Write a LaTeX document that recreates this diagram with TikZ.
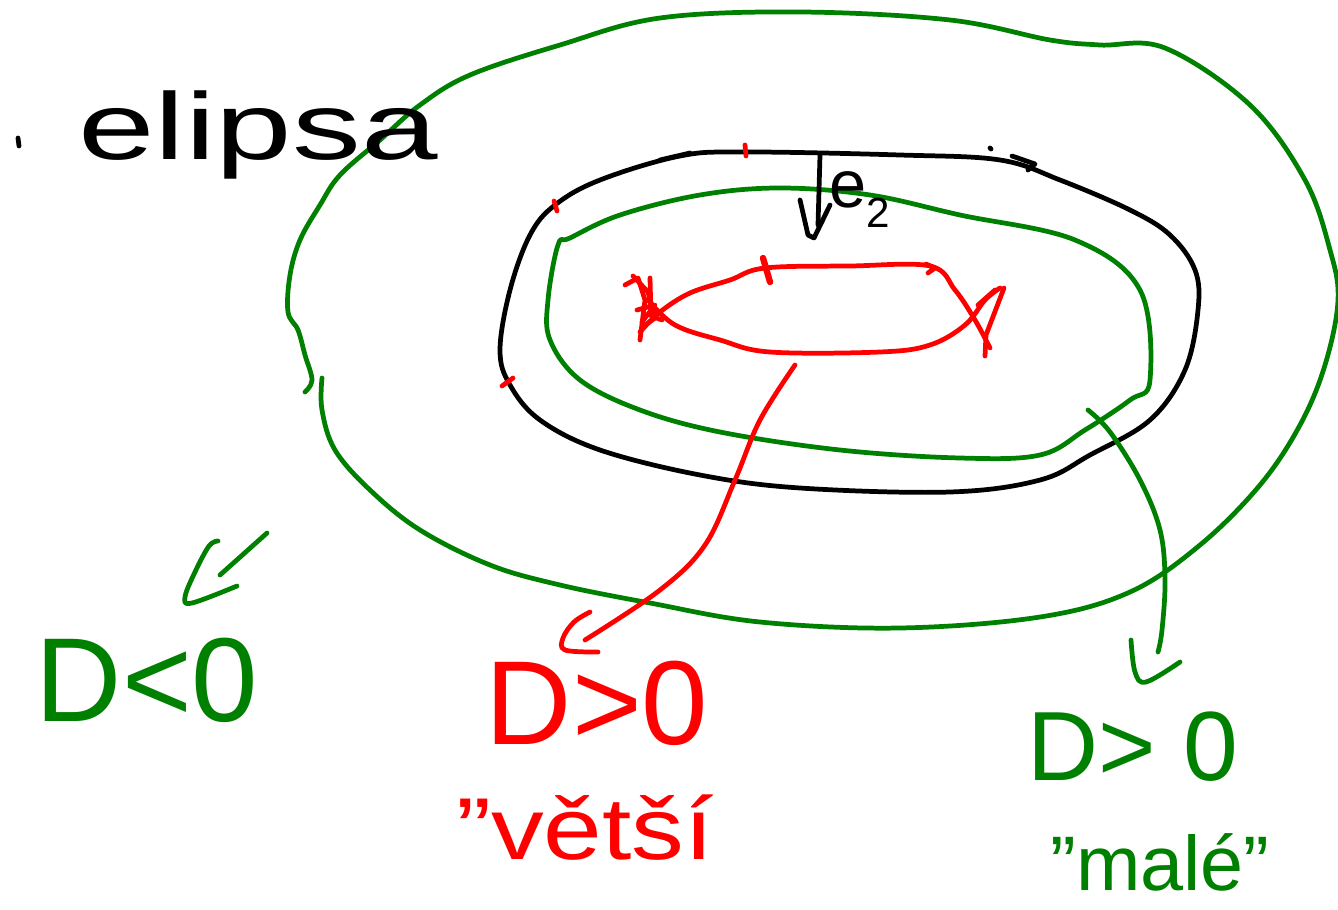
\documentclass[tikz,border=0pt]{standalone}
\usepackage{fontspec}
\setmainfont{Liberation Sans}
\definecolor{pgreen}{RGB}{0,128,0}
\definecolor{pred}{RGB}{255,0,0}
\tikzset{
  pen/.style={line width=2.7pt, line cap=round, line join=round},
  gpen/.style={pen, draw=pgreen},
  rpen/.style={pen, draw=pred},
  kpen/.style={pen, draw=black},
  lbl/.style={inner sep=0pt, anchor=center},
}
\begin{document}
\begin{tikzpicture}[x=0.02cm, y=-0.02cm]
\useasboundingbox (0,0) rectangle (1338,909);
\fill[white] (0,0) rectangle (1338,909);

% outer green loop
\draw[gpen] plot[smooth, tension=0.6] coordinates {(322,378) (322,410) (335,450) (370,490) (420,530) (490,565) (560,585) (650,603) (760,622) (900,628) (1040,617) (1130,592) (1200,545) (1260,485) (1300,425) (1325,365) (1338,300) (1330,250) (1305,180) (1250,105) (1165,48) (1100,45) (1050,40) (950,20) (800,12) (660,18) (560,45) (470,75) (420,105) (380,140) (340,175) (320,205) (300,240) (290,275) (288,312) (298,330) (305,355) (312,380) (305,392)};

% black ellipse
\draw[kpen] plot[smooth cycle, tension=0.6] coordinates {(745,152) (680,156) (600,180) (555,205) (530,235) (510,290) (500,350) (510,385) (540,420) (600,450) (700,475) (800,488) (950,492) (1040,480) (1090,455) (1150,420) (1185,370) (1198,310) (1195,270) (1170,235) (1130,210) (1060,180) (1000,160) (900,155)};
\draw[kpen] (660,160)--(690,153);
\draw[kpen] (990,148)--(991,149);
\draw[kpen] (1012,156)--(1035,164)--(1028,170);
% red marks on black ellipse
\draw[rpen] (745,145)--(746,156);
\draw[rpen] (554,201)--(557,211);
\draw[rpen] (502,386)--(513,378);

% inner green loop
\draw[gpen] plot[smooth cycle, tension=0.6] coordinates {(570,238) (620,215) (700,195) (780,188) (870,195) (960,215) (1075,240) (1140,290) (1150,380) (1130,400) (1085,430) (1040,455) (960,458) (840,450) (720,432) (640,410) (580,380) (550,340) (548,300) (558,245)};

% e2 arrow
\node[lbl] (e2) at (860,200) {\fontsize{38}{38}\selectfont e\raisebox{-0.3em}{\fontsize{24}{24}\selectfont 2}};
\draw[kpen] (820,155)--(818,225);
\draw[kpen] (800,200)--(808,235)--(814,238)--(830,205);

% red loop
\draw[rpen] plot[smooth, tension=0.6] coordinates {(640,332) (660,312) (690,293) (730,280) (765,268) (850,266) (930,266) (955,290) (975,320) (990,348)};
\draw[rpen] plot[smooth, tension=0.6] coordinates {(648,300) (675,325) (720,340) (770,352) (880,352) (930,345) (965,325) (985,300) (1000,288)};
\draw[rpen] (625,285)--(638,278)--(645,300)--(640,340);
\draw[rpen] (633,276)--(648,292)--(655,318)--(644,326);
\draw[rpen] (650,278)--(651,316)--(662,320);
\draw[rpen] (637,310)--(655,305)--(642,322);
\draw[rpen] (985,356)--(986,335)--(1004,288);
\draw[rpen] (978,305)--(995,290);
\draw[rpen, line width=3.6pt] (763,258)--(770,282);
\draw[rpen] (926,264)--(935,268)--(928,273);

% red connector
\draw[rpen] plot[smooth, tension=0.6] coordinates {(795,365) (760,420) (735,480) (705,545) (660,590) (585,640)};
\draw[rpen] plot[smooth, tension=0.6] coordinates {(590,612) (574,622) (563,638) (565,650) (598,652)};

% green connector
\draw[gpen] plot[smooth, tension=0.6] coordinates {(1088,410) (1110,432) (1140,480) (1160,530) (1165,580) (1162,630) (1158,652)};
\draw[gpen] plot[smooth, tension=0.6] coordinates {(1131,640) (1135,672) (1146,682) (1180,662)};

% green arrow near D<0
\draw[gpen] (267,533)--(220,575);
\draw[gpen] plot[smooth, tension=0.6] coordinates {(218,541) (209,546) (195,572) (185,597) (192,603) (237,586)};

% texts
\draw[kpen] (18,138)--(19,146);
\node[lbl, xscale=1.45] (elipsa) at (258,135) {\fontsize{54}{54}\selectfont elipsa};
\node[lbl, text=pgreen] (dlt) at (147,680) {\fontsize{68}{68}\selectfont D<0};
\node[lbl, text=pred] (dgtr) at (597,703) {\fontsize{68}{68}\selectfont D>0};
\node[lbl, text=pred, xscale=1.2] (vetsi) at (585,828) {\fontsize{50}{50}\selectfont "větší};
\node[lbl, text=pgreen] (dgtg) at (1133,747) {\fontsize{56}{56}\selectfont D> 0};
\node[lbl, text=pgreen] (male) at (1160,862) {\fontsize{44}{44}\selectfont "malé"};
\end{tikzpicture}
\end{document}
